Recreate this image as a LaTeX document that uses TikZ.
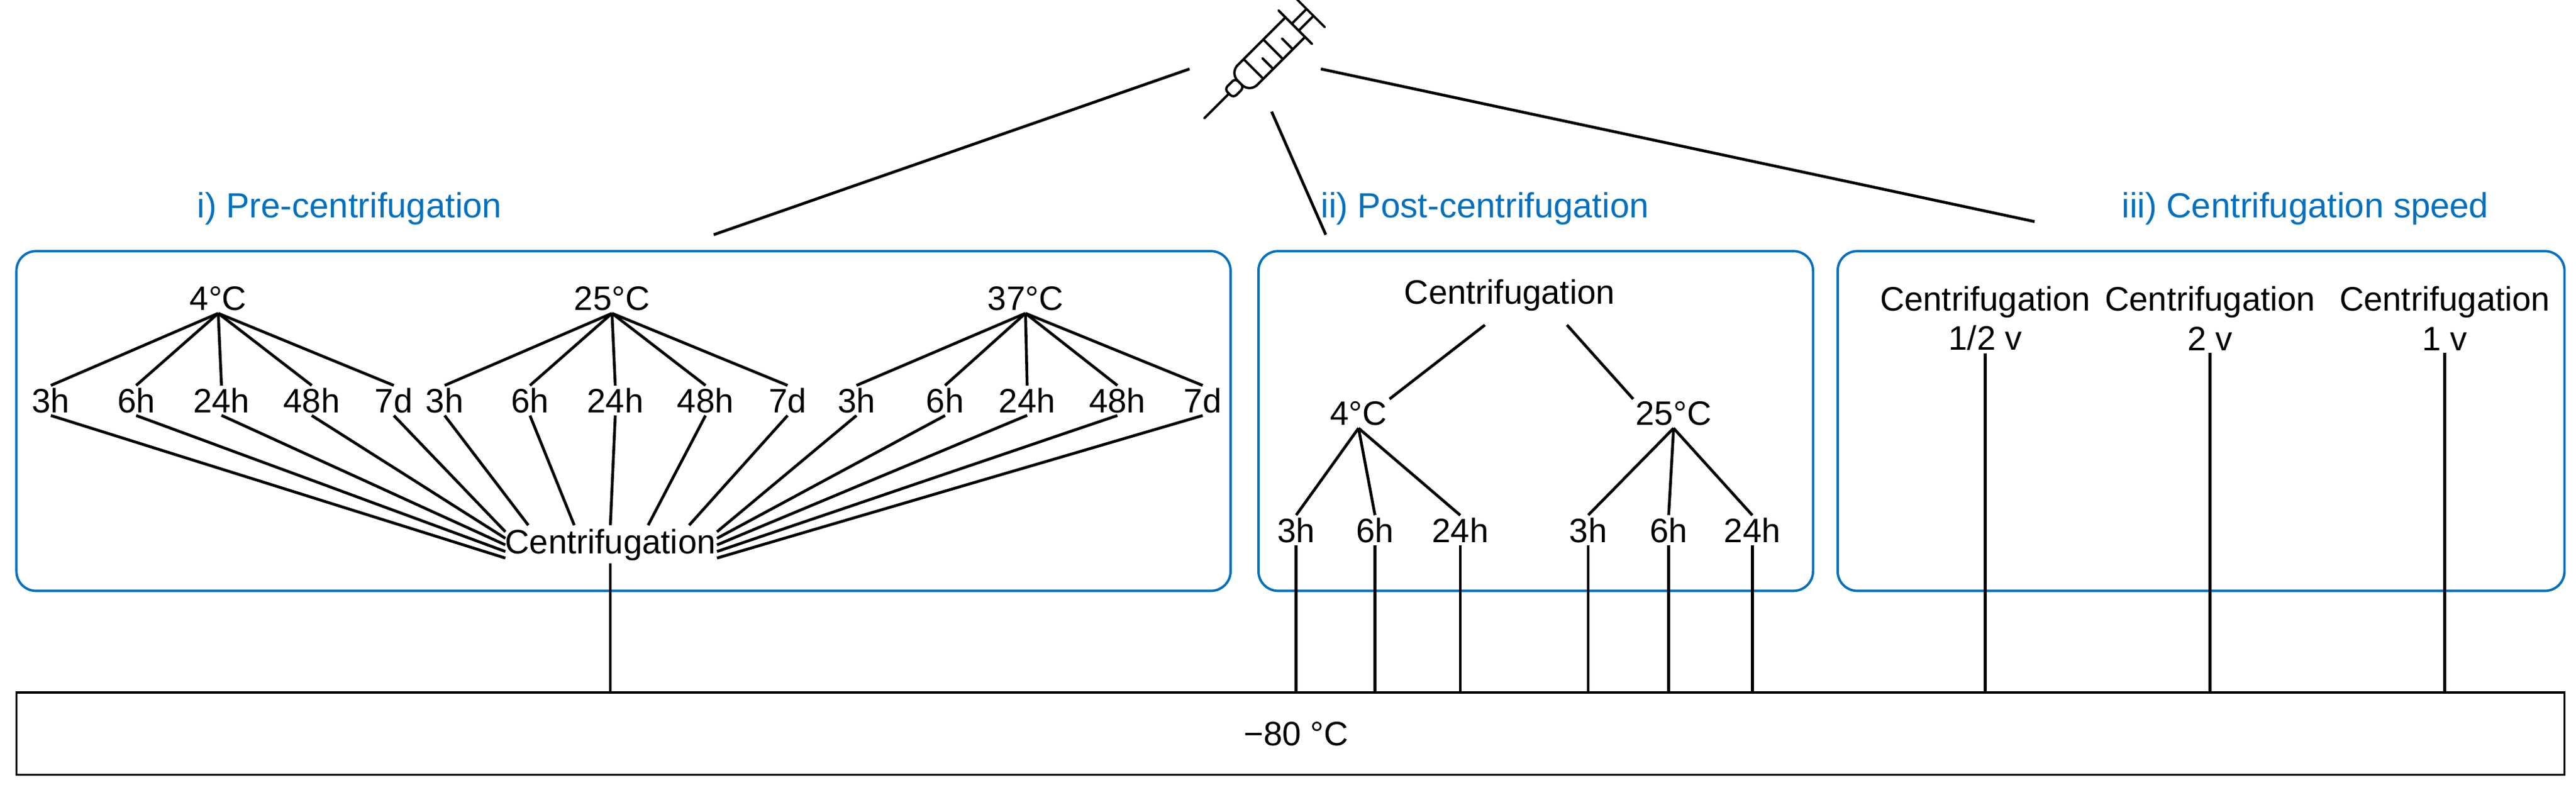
\documentclass[tikz,border=0pt]{standalone}
\usepackage{fontspec}
\setmainfont{Liberation Sans}
\begin{document}
\begin{tikzpicture}[x=0.026427cm,y=-0.026427cm,
  t/.style={font=\fontsize{15.5}{18}\selectfont,inner sep=1pt},
  ttl/.style={font=\fontsize{16}{18}\selectfont,inner sep=1pt},
  ln/.style={line width=1.3pt},
  bx/.style={line width=1.1pt,rounded corners=9pt}]
\useasboundingbox (0,0) rectangle (1570,481);
\definecolor{tb}{RGB}{0,112,192}
\tikzset{ttl/.append style={text=tb},bx/.append style={draw=tb}}
% boxes
\draw[bx] (10,153) rectangle (750,360);
\draw[bx] (767,153) rectangle (1105,360);
\draw[bx] (1120,153) rectangle (1563,360);
\draw[line width=1pt] (10,422) rectangle (1563,472);
\node[t] (m80) at (790,447) {−80 °C};
\coordinate (bot) at (0,422);
% titles
\node[ttl] (T1) at (213,127) {i) Pre-centrifugation};
\node[ttl] (T2) at (905,127) {ii) Post-centrifugation};
\node[ttl] (T3) at (1405,127) {iii) Centrifugation speed};
% syringe
\coordinate (sy1) at (725,42); \coordinate (sy2) at (775,68); \coordinate (sy3) at (805,42);
\coordinate (e1) at (435,143); \coordinate (e2) at (808,143); \coordinate (e3) at (1240,135);
\draw[ln] (sy1)--(e1); \draw[ln] (sy2)--(e2); \draw[ln] (sy3)--(e3);
\begin{scope}[shift={(734,72)},rotate=45,x=1.12cm,y=1.12cm,line width=1.1pt,line cap=round]
\draw (0,0)--(0.5,0);
\draw[rounded corners=2pt] (0.5,-0.09) rectangle (0.72,0.09);
\draw[rounded corners=5pt] (1.85,0.2)--(0.72,0.2)--(0.72,-0.2)--(1.85,-0.2);
\foreach \p/\l in {1.0/0.4,1.2/0.22,1.4/0.4,1.6/0.22} \draw (\p,-0.2)--(\p,-0.2+\l);
\draw (1.85,-0.34)--(1.85,0.34);
\draw (1.85,0.07)--(2.15,0.07); \draw (1.85,-0.07)--(2.15,-0.07);
\draw (2.15,-0.3)--(2.15,0.3);
\end{scope}
% pre-centrifugation
\node[t] (C1) at (372,332) {Centrifugation};
\draw[ln] (C1.south)--(C1.south|-bot);
\foreach \temp/\tx/\nm in {4°C/133/a,25°C/373/b,37°C/625/c}{
  \node[t] (\nm T) at (\tx,182) {\temp};
}
\foreach \nm/\xs in {a/{31,83,135,190,240},b/{271,323,375,430,480},c/{522,576,626,681,733}}{
  \foreach \x [count=\i] in \xs {
    \node[t] (\nm\i) at (\x,244) {\ifcase\i\or 3h\or 6h\or 24h\or 48h\or 7d\fi};
    \draw[ln] (\nm T.south)--(\nm\i.north);
  }
}
\foreach \n/\y in {a1/340,a2/336,a3/332,a4/328,a5/324}{\draw[ln] (\n.south)--(308,\y);}
\draw[ln] (b1.south)--(322,320);
\draw[ln] (b2.south)--(350,320);
\draw[ln] (b3.south)--(372,320);
\draw[ln] (b4.south)--(395,320);
\draw[ln] (b5.south)--(420,320);
\foreach \n/\y in {c1/324,c2/328,c3/332,c4/336,c5/340}{\draw[ln] (\n.south)--(437,\y);}
% post-centrifugation
\node[t] (C2) at (920,180) {Centrifugation};
\node[t] (P4) at (828,252) {4°C};
\node[t] (P25) at (1020,252) {25°C};
\draw[ln] (905,198)--(P4.north east);
\draw[ln] (955,198)--(P25.north west);
\foreach \x [count=\i] in {790,838,890}{
  \node[t] (pa\i) at (\x,323) {\ifcase\i\or 3h\or 6h\or 24h\fi};
  \draw[ln] (P4.south)--(pa\i.north);
  \draw[ln] (pa\i.south)--(pa\i.south|-bot);
}
\foreach \x [count=\i] in {968,1017,1068}{
  \node[t] (pb\i) at (\x,323) {\ifcase\i\or 3h\or 6h\or 24h\fi};
  \draw[ln] (P25.south)--(pb\i.north);
  \draw[ln] (pb\i.south)--(pb\i.south|-bot);
}
% speed
\foreach \x/\v [count=\i] in {1210/1\slash 2 v,1347/2 v,1490/1 v}{
  \node[t,align=center] (S\i) at (\x,194) {Centrifugation\\\v};
  \draw[ln] (S\i.south)--(S\i.south|-bot);
}
\end{tikzpicture}
\end{document}
